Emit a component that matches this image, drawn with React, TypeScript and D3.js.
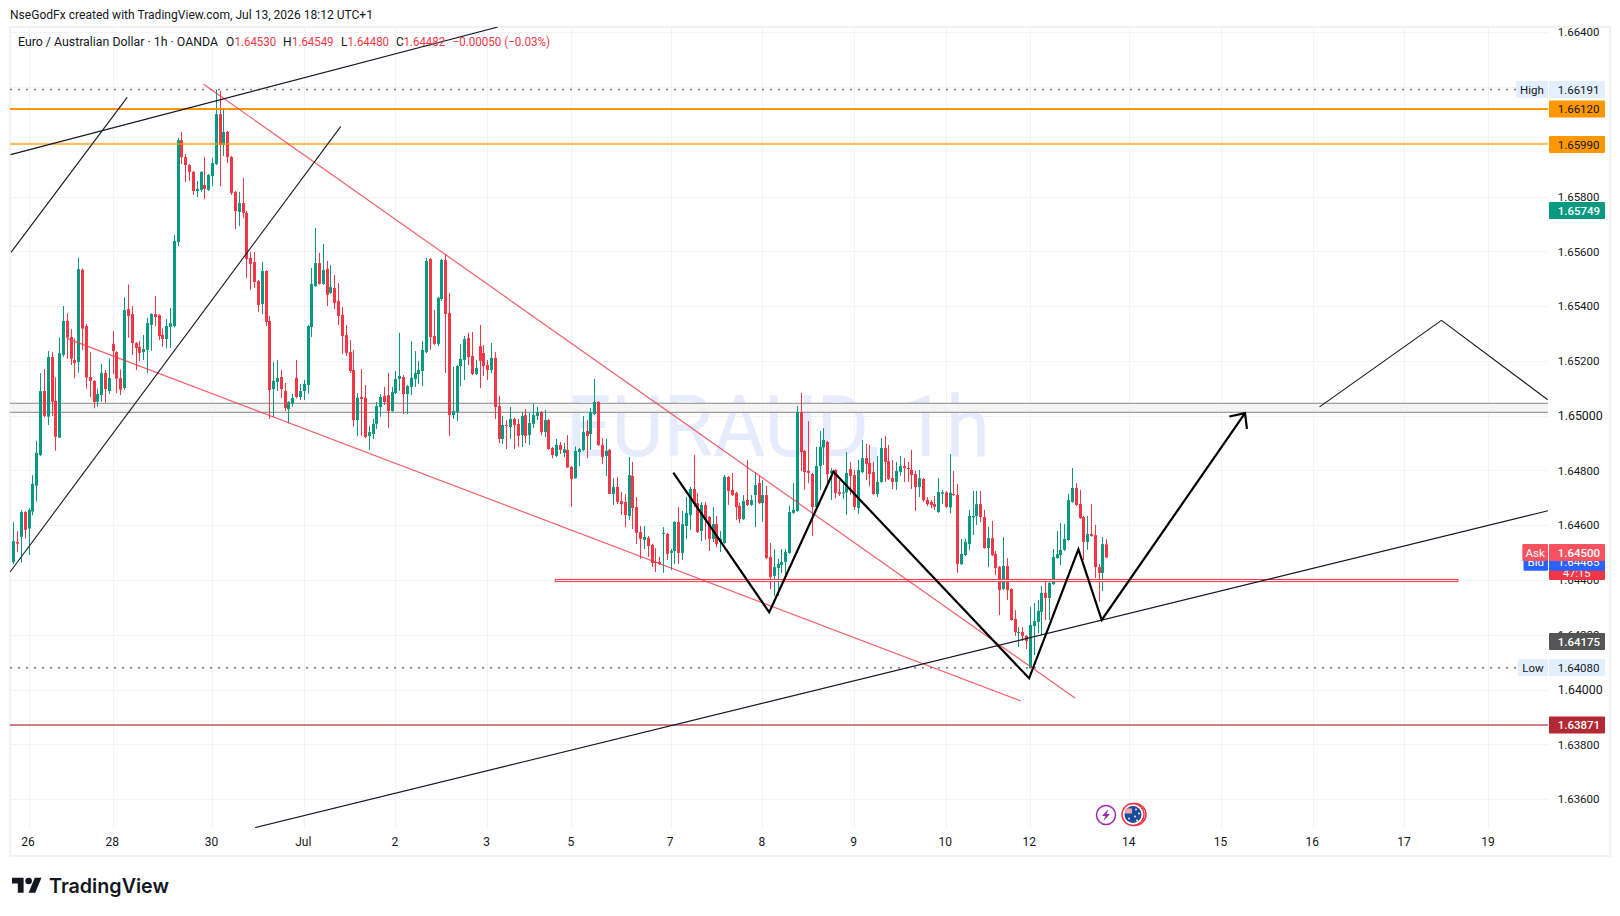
import * as d3 from "d3";
import { useEffect, useRef } from "react";

// EURAUD 1h candles, values in points (price * 100000)
const opens = [
  164466,164539,164558,164648,164588,164650,164744,164856,165090,164996,
  165214,165054,164920,165222,165346,165287,165203,165196,165533,165327,
  165141,165127,165051,165075,165156,165090,165262,165232,165137,165101,
  165389,165371,165265,165251,165232,165240,165331,165371,165367,165295,
  165280,165324,165327,165634,166006,165944,165915,165890,165820,165824,
  165842,165824,165875,165919,166101,165988,166036,165944,165817,165744,
  165776,165740,165576,165561,165492,165408,165528,165346,165097,165123,
  165141,165090,165024,165044,165138,165068,165090,165112,165324,165473,
  165557,165481,165536,165448,165466,165419,165368,165294,165232,165167,
  164984,165068,165065,164926,164933,164970,165032,165072,165075,165017,
  165083,165134,165141,165079,165105,165134,165152,165163,165232,165572,
  165291,165262,165426,165568,165375,165002,165013,165181,165203,165284,
  165218,165152,165254,165229,165185,165167,165211,165035,164915,164966,
  164959,164988,164970,164929,165002,164929,164970,164999,165013,164940,
  164984,164882,164853,164893,164864,164875,164813,164772,164867,164875,
  164944,164933,165006,165050,164893,164853,164875,164714,164740,164688,
  164685,164634,164780,164666,164575,164546,164553,164528,164466,164466,
  164568,164568,164499,164506,164612,164499,164597,164637,164732,164681,
  164579,164674,164630,164550,164604,164539,164535,164776,164729,164718,
  164670,164623,164692,164674,164710,164754,164681,164710,164484,164415,
  164444,164455,164466,164499,164645,164652,165013,164871,164798,164787,
  164666,164816,164884,164904,164790,164802,164721,164716,164720,164805,
  164783,164663,164794,164845,164827,164794,164714,164758,164882,164834,
  164772,164758,164794,164816,164809,164802,164787,164740,164769,164692,
  164685,164677,164648,164715,164720,164665,164714,164710,164458,164491,
  164531,164629,164634,164677,164630,164517,164553,164495,164447,164367,
  164451,164367,164258,164208,164210,164196,164078,164232,164247,164283,
  164353,164334,164385,164480,164491,164510,164546,164685,164736,164677,
  164630,164539,164568,164564,164447,164426,164530,
];
const highs = [
  164611,164578,164656,164652,164662,164783,164908,165155,165170,165236,
  165232,165140,165285,165400,165374,165316,165282,165577,165537,165335,
  165232,165130,165099,165189,165167,165209,165309,165235,165169,165432,
  165479,165400,165268,165273,165295,165357,165374,165437,165370,165319,
  165353,165393,165660,166014,166036,165955,165919,165893,165857,165893,
  165944,165882,165941,166191,166186,166120,166040,165948,165820,165817,
  165868,165747,165598,165598,165495,165561,165531,165364,165196,165203,
  165167,165119,165053,165079,165203,165116,165130,165331,165539,165685,
  165594,165627,165565,165550,165514,165484,165397,165331,165276,165240,
  165083,165170,165112,164962,164988,165050,165079,165105,165156,165105,
  165163,165302,165148,165112,165273,165236,165200,165273,165576,165576,
  165386,165434,165572,165590,165448,165178,165185,165262,165291,165302,
  165305,165203,165331,165258,165203,165265,165232,165072,164999,164984,
  165032,164992,164988,165013,165024,165010,165043,165032,165017,165021,
  164988,164886,164915,164904,164901,164929,164816,164887,164882,164999,
  164984,165028,165134,165053,164918,164915,164878,164772,164776,164721,
  164714,164849,164831,164703,164597,164597,164561,164532,164516,164485,
  164593,164572,164513,164615,164666,164652,164703,164740,164856,164718,
  164685,164685,164634,164666,164634,164579,164783,164780,164791,164722,
  164681,164710,164838,164710,164794,164783,164765,164743,164535,164513,
  164477,164513,164513,164670,164754,165035,165083,164875,164980,164791,
  164886,164944,164954,164908,164808,164805,164765,164753,164867,164831,
  164802,164838,164911,164897,164893,164831,164853,164918,164926,164893,
  164838,164831,164853,164845,164831,164875,164798,164802,164772,164703,
  164692,164707,164772,164729,164724,164860,164798,164750,164550,164550,
  164656,164725,164725,164725,164656,164594,164615,164506,164451,164557,
  164480,164370,164290,164228,164228,164199,164302,164316,164327,164378,
  164393,164393,164513,164579,164608,164604,164714,164809,164754,164729,
  164634,164634,164677,164601,164458,164557,164549,
];
const lows = [
  164458,164502,164463,164552,164491,164636,164686,164853,164994,164966,
  164999,164872,164918,165215,165208,165185,165136,165157,165240,165099,
  165067,165027,165033,165051,165047,165079,165152,165082,165075,165094,
  165285,165222,165167,165200,165203,165155,165237,165327,165276,165251,
  165246,165247,165322,165619,165919,165853,165857,165806,165798,165817,
  165791,165820,165838,165915,165838,165948,165922,165806,165681,165692,
  165722,165503,165459,165466,165378,165371,165327,164988,164995,165090,
  165065,165017,164972,165033,165063,165057,165057,165080,165287,165470,
  165478,165478,165400,165445,165389,165331,165225,165218,165156,164959,
  164926,164926,164918,164875,164915,164951,164996,165039,164955,165014,
  165079,165090,165006,165006,165075,165105,165116,165108,165228,165240,
  165258,165254,165419,165156,164926,164988,164980,165108,165130,165185,
  165148,165148,165101,165145,165130,165156,164988,164900,164897,164878,
  164915,164878,164886,164886,164900,164893,164955,164984,164929,164922,
  164875,164845,164849,164860,164848,164809,164668,164770,164816,164870,
  164845,164875,165002,164889,164823,164780,164714,164674,164677,164637,
  164593,164619,164586,164531,164477,164513,164484,164447,164429,164455,
  164426,164473,164436,164458,164458,164473,164550,164583,164666,164572,
  164542,164546,164506,164539,164520,164502,164532,164674,164707,164619,
  164608,164619,164670,164670,164593,164678,164612,164477,164367,164342,
  164342,164426,164404,164495,164642,164649,164798,164729,164754,164561,
  164662,164729,164820,164753,164692,164698,164707,164696,164637,164710,
  164656,164641,164790,164765,164743,164710,164703,164755,164758,164765,
  164732,164729,164780,164758,164758,164732,164652,164703,164685,164670,
  164662,164656,164645,164677,164663,164643,164707,164426,164455,164488,
  164510,164564,164601,164612,164514,164447,164488,164418,164272,164363,
  164327,164252,164196,164155,164177,164148,164078,164126,164205,164199,
  164254,164254,164382,164477,164454,164506,164543,164682,164671,164623,
  164473,164510,164558,164407,164321,164360,164480,
];
const closes = [
  164542,164533,164648,164583,164656,164751,164864,165090,164999,165214,
  165051,164923,165228,165346,165285,165208,165192,165535,165318,165139,
  165127,165050,165079,165156,165097,165137,165236,165135,165095,165386,
  165364,165265,165247,165229,165243,165338,165371,165360,165291,165280,
  165327,165338,165638,166006,165944,165915,165890,165820,165828,165890,
  165828,165879,165922,166101,165988,166036,165944,165813,165747,165776,
  165740,165572,165554,165488,165404,165528,165342,165094,165127,165137,
  165097,165028,165050,165065,165068,165090,165116,165327,165481,165557,
  165481,165532,165441,165470,165411,165364,165291,165229,165163,164984,
  165065,165061,164922,164940,164970,165035,165068,165050,165017,165086,
  165134,165145,165079,165108,165138,165156,165167,165240,165565,165287,
  165262,165430,165568,165371,165002,165017,165181,165207,165280,165214,
  165152,165174,165200,165181,165167,165211,165032,164915,164966,164962,
  164988,164966,164926,164999,164926,164973,165002,165013,164940,164984,
  164878,164856,164893,164875,164877,164811,164769,164871,164878,164940,
  164926,165013,165050,164893,164849,164871,164714,164740,164685,164677,
  164637,164783,164663,164572,164550,164557,164524,164462,164462,164458,
  164572,164495,164506,164612,164499,164604,164645,164732,164677,164575,
  164674,164619,164550,164604,164531,164550,164777,164725,164710,164666,
  164623,164688,164674,164692,164747,164681,164710,164480,164411,164447,
  164458,164466,164502,164648,164656,165013,164867,164794,164791,164666,
  164816,164886,164911,164787,164798,164718,164714,164720,164791,164780,
  164667,164802,164845,164824,164787,164714,164758,164882,164831,164769,
  164758,164798,164817,164809,164805,164783,164740,164772,164692,164677,
  164674,164667,164721,164720,164667,164719,164710,164458,164495,164539,
  164634,164634,164677,164630,164517,164553,164491,164444,164363,164451,
  164363,164254,164210,164210,164196,164177,164236,164250,164287,164353,
  164334,164389,164484,164494,164510,164550,164692,164736,164674,164626,
  164539,164568,164561,164447,164426,164531,164482,
];

// time axis: label and bar index it sits on
const dateLabels = ["26","28","30","Jul","2","3","5","7","8","9","10","12","14","15","16","17","19"];
const dateBars = [4,26,52,76,100,124,146,172,196,220,244,266,292,316,340,364,386];

const priceTicks = [166400,166200,166000,165800,165600,165400,165200,165000,164800,164600,164400,164200,164000,163800,163600];
const hiddenTicks = [166200,166000];
const majorTicks = [165000,164000];

// drawings, as [bar index, points]
const trendBlack: [number, number][][] = [
  [[-0.7,165953],[126.8,166419]],
  [[-0.6,165596],[29.8,166162]],
  [[-0.86,164429],[85.7,166056]],
  [[63.3,163496],[401.6,164653]],
];
const trendRed: [number, number][][] = [
  [[49.8,166210],[277.8,163969]],
  [[14,165282],[263.7,163958]],
];
const zigzag: [number, number][] = [[172.7,164792],[197.8,164282],[214.6,164795],[265.8,164041],[278.7,164512],[284.8,164254],[322.3,165009]];
const arrowHead: [number, number][] = [[318.2,164997],[322.3,165009],[322.8,164952]];
const projection: [number, number][] = [[341.8,165032],[373.7,165348],[401.5,165058]];

const PLOT = { left: 10, right: 1548, top: 27, bottom: 828 };
const GREEN = "#089981";
const RED = "#f23645";
const INK = "#131722";
const FONT = "Roboto, sans-serif";

function fmt(p: number) {
  return (p / 100000).toFixed(5);
}

export default function App() {
  const ref = useRef<SVGSVGElement | null>(null);

  useEffect(() => {
    if (!ref.current) return;
    document.body.style.margin = "0";

    const svg = d3.select(ref.current);
    svg.selectAll("*").remove();

    const x = d3.scaleLinear().domain([0, 286]).range([13.3, 1106.3]);
    const y = d3.scaleLinear().domain([166400, 163600]).range([32.2, 799.1]);
    const pathFor = d3.line<[number, number]>().x(d => x(d[0])).y(d => y(d[1]));

    svg.append("rect").attr("width", 1620).attr("height", 916).attr("fill", "#fff");

    // Frame
    svg.append("rect")
      .attr("x", 10).attr("y", 27).attr("width", 1600).attr("height", 829)
      .attr("fill", "none").attr("stroke", "#f2f2f2").attr("stroke-width", 2);

    svg.append("defs").append("clipPath").attr("id", "plot")
      .append("rect")
      .attr("x", PLOT.left).attr("y", PLOT.top)
      .attr("width", PLOT.right - PLOT.left).attr("height", PLOT.bottom - PLOT.top);

    const plot = svg.append("g").attr("clip-path", "url(#plot)");

    // Grid
    dateBars.forEach(b => {
      const gx = Math.round(x(b)) + 0.5;
      plot.append("line").attr("x1", gx).attr("x2", gx).attr("y1", PLOT.top).attr("y2", PLOT.bottom)
        .attr("stroke", "#f2f3f5");
    });
    priceTicks.forEach(p => {
      const gy = Math.round(y(p)) + 0.5;
      plot.append("line").attr("x1", PLOT.left).attr("x2", PLOT.right).attr("y1", gy).attr("y2", gy)
        .attr("stroke", "#f2f3f5");
    });

    // Watermark
    plot.append("text")
      .attr("x", 566).attr("y", 456)
      .attr("font-family", FONT).attr("font-size", 85)
      .attr("textLength", 424).attr("lengthAdjust", "spacingAndGlyphs")
      .attr("fill", "#e6ecfd")
      .text("EURAUD, 1h");

    // Grey zone at 1.6500
    plot.append("rect")
      .attr("x", PLOT.left - 2).attr("width", PLOT.right - PLOT.left + 4)
      .attr("y", y(165045)).attr("height", y(165012) - y(165045))
      .attr("fill", "#f4f4f4").attr("stroke", "#9a9a9a").attr("stroke-width", 1.2);

    // Candles
    const wickGroup = plot.append("g");
    opens.forEach((o, i) => {
      const c = closes[i];
      const color = c >= o ? GREEN : RED;
      const cx = Math.round(x(i));
      wickGroup.append("rect")
        .attr("x", cx).attr("width", 1)
        .attr("y", y(highs[i])).attr("height", Math.max(1, y(lows[i]) - y(highs[i])))
        .attr("fill", color);
      wickGroup.append("rect")
        .attr("x", cx - 1).attr("width", 3)
        .attr("y", y(Math.max(o, c))).attr("height", Math.max(1, Math.abs(y(o) - y(c))))
        .attr("fill", color);
    });

    // Horizontal levels
    const levels: [number, string, number, number][] = [
      [166120, "#ff9800", 2, 1],
      [165990, "#ff9800", 2, 0.65],
      [163871, "#b22833", 2, 0.6],
    ];
    levels.forEach(([p, col, w, op]) => {
      const ly = Math.round(y(p));
      plot.append("line")
        .attr("x1", PLOT.left).attr("x2", PLOT.right).attr("y1", ly).attr("y2", ly)
        .attr("stroke", col).attr("stroke-width", w).attr("stroke-opacity", op);
    });
    [166191, 164080].forEach(p => {
      plot.append("line")
        .attr("x1", PLOT.left).attr("x2", PLOT.right).attr("y1", y(p)).attr("y2", y(p))
        .attr("stroke", "#777").attr("stroke-width", 1.5).attr("stroke-dasharray", "2 6");
    });

    // Support box at 1.6440
    plot.append("rect")
      .attr("x", x(141.8)).attr("width", x(378) - x(141.8))
      .attr("y", y(164402)).attr("height", y(164394) - y(164402))
      .attr("fill", "#fde8ea").attr("stroke", RED).attr("stroke-width", 1);

    // Trend lines
    trendRed.forEach(seg => {
      plot.append("path").attr("d", pathFor(seg)!).attr("fill", "none")
        .attr("stroke", RED).attr("stroke-opacity", 0.8).attr("stroke-width", 1.2);
    });
    trendBlack.forEach(seg => {
      plot.append("path").attr("d", pathFor(seg)!).attr("fill", "none")
        .attr("stroke", INK).attr("stroke-width", 1.1);
    });
    plot.append("path").attr("d", pathFor(projection)!).attr("fill", "none")
      .attr("stroke", INK).attr("stroke-width", 1.1);
    plot.append("path").attr("d", pathFor(zigzag)!).attr("fill", "none")
      .attr("stroke", "#000").attr("stroke-width", 2.2).attr("stroke-linejoin", "miter");
    plot.append("path").attr("d", pathFor(arrowHead)!).attr("fill", "none")
      .attr("stroke", "#000").attr("stroke-width", 2.2);

    // Event icons on the axis
    const bolt = svg.append("g").attr("transform", "translate(1106,815)");
    bolt.append("circle").attr("r", 9.5).attr("fill", "#fff").attr("stroke", "#9c27b0").attr("stroke-width", 1.5);
    bolt.append("path").attr("d", "M2.5,-6 L-4,1 L-0.5,1 L-2.5,6 L4,-1 L0.5,-1 Z").attr("fill", "#9c27b0");
    const flag = svg.append("g").attr("transform", "translate(1133,814.5)");
    flag.append("circle").attr("cx", 2).attr("r", 11).attr("fill", "#fff").attr("stroke", RED).attr("stroke-width", 1.5);
    flag.append("circle").attr("r", 11).attr("fill", "#fff").attr("stroke", RED).attr("stroke-width", 1.5);
    flag.append("circle").attr("r", 8.5).attr("fill", "#1c4b9c");
    flag.append("path").attr("d", "M-8,-6 L-1,-6 L-1,-1 L-8,-1 Z").attr("fill", "#f3a6ad");
    const stars: [number, number][] = [[3, -5], [6, -1], [2, 2], [-4, 4], [4, 6]];
    stars.forEach(s => flag.append("circle").attr("cx", s[0]).attr("cy", s[1]).attr("r", 0.9).attr("fill", "#fff"));

    // Time axis
    dateLabels.forEach((d, i) => {
      svg.append("text")
        .attr("x", x(dateBars[i]) - 0.5).attr("y", 846)
        .attr("text-anchor", "middle")
        .attr("font-family", FONT).attr("font-size", 12)
        .attr("font-weight", 400)
        .attr("fill", INK)
        .text(d);
    });

    // Price axis
    const axis = svg.append("g");
    priceTicks.filter(p => !hiddenTicks.includes(p)).forEach(p => {
      const major = majorTicks.includes(p);
      axis.append("text")
        .attr("x", 1557.7).attr("y", y(p) + 4.2)
        .attr("font-family", FONT).attr("font-size", major ? 12.4 : 11.5)
        .attr("font-weight", 400)
        .attr("fill", INK)
        .text(fmt(p));
    });

    const priceTag = (p: number, bg: string, fg: string, bold = false, text = fmt(p)) => {
      const cy = y(p);
      axis.append("rect").attr("x", 1549).attr("y", cy - 8.5).attr("width", 56).attr("height", 17)
        .attr("rx", 1).attr("fill", bg);
      axis.append("text").attr("x", 1557.7).attr("y", cy + 4.2)
        .attr("font-family", FONT).attr("font-size", 11.5)
        .attr("font-weight", bold ? 500 : 400).attr("fill", fg).text(text);
    };
    const sideTag = (p: number, left: number, label: string, bg: string, fg: string) => {
      const cy = y(p);
      axis.append("rect").attr("x", left).attr("y", cy - 8.5).attr("width", 1548 - left).attr("height", 17)
        .attr("rx", 1).attr("fill", bg);
      axis.append("text").attr("x", (left + 1548) / 2).attr("y", cy + 4.2)
        .attr("text-anchor", "middle")
        .attr("font-family", FONT).attr("font-size", 11.5).attr("fill", fg).text(label);
    };

    priceTag(166191, "#e3effd", INK);
    sideTag(166191, 1516, "High", "#e3effd", INK);
    priceTag(166120, "#ff9800", INK);
    priceTag(165990, "#ff9800", INK);
    priceTag(165749, GREEN, "#fff", true);

    // Last price with countdown, under bid and ask
    axis.append("rect").attr("x", 1549).attr("y", y(164482) - 8.5).attr("width", 56).attr("height", 31)
      .attr("rx", 1).attr("fill", RED);
    axis.append("text").attr("x", 1563).attr("y", y(164482) + 19).attr("font-family", FONT)
      .attr("font-size", 11).attr("fill", "#fff").text("47:15");
    priceTag(164465, "#2962ff", "#fff");
    sideTag(164465, 1523.5, "Bid", "#2962ff", "#fff");
    priceTag(164500, "#f7525f", "#fff", true);
    sideTag(164500, 1522.3, "Ask", "#f7525f", "#fff");

    priceTag(164175, "#555555", "#fff", true);
    priceTag(164080, "#e3effd", INK);
    sideTag(164080, 1518, "Low", "#e3effd", INK);
    priceTag(163871, "#b22833", "#fff", true);

    // Header and legend
    svg.append("text").attr("x", 10).attr("y", 19)
      .attr("font-family", FONT).attr("font-size", 12).attr("fill", INK)
      .attr("textLength", 363).attr("lengthAdjust", "spacingAndGlyphs")
      .text("NseGodFx created with TradingView.com, Jul 13, 2026 18:12 UTC+1");

    const legend: [number, string, string, number][] = [
      [18, "Euro / Australian Dollar · 1h · OANDA", INK, 200],
      [226, "O", INK, 0], [234.6, "1.64530", RED, 41.5],
      [283, "H", INK, 0], [292, "1.64549", RED, 41.5],
      [341, "L", INK, 0], [347.5, "1.64480", RED, 41.5],
      [396, "C", INK, 0], [403.6, "1.64482", RED, 41.5],
      [452.5, "−0.00050 (−0.03%)", RED, 97.5],
    ];
    legend.forEach(([lx, t, col, len]) => {
      const label = svg.append("text").attr("x", lx).attr("y", 46)
        .attr("font-family", FONT).attr("font-size", 12).attr("fill", col).text(t);
      if (len) label.attr("textLength", len).attr("lengthAdjust", "spacingAndGlyphs");
    });

    // TradingView logo
    const logo = svg.append("g").attr("transform", "translate(12,874.4) scale(0.83)");
    logo.append("path").attr("d", "M14 22H7V11H0V4h14v18zM28 22h-8l7.5-18h8L28 22z").attr("fill", INK);
    logo.append("circle").attr("cx", 20).attr("cy", 8).attr("r", 4).attr("fill", INK);
    svg.append("text").attr("x", 49).attr("y", 892.5)
      .attr("font-family", "Inter, sans-serif").attr("font-size", 20).attr("font-weight", 600)
      .attr("textLength", 120).attr("lengthAdjust", "spacingAndGlyphs")
      .attr("fill", INK).text("TradingView");
  }, []);

  return <svg ref={ref} width={1620} height={916} style={{ display: "block" }} />;
}
